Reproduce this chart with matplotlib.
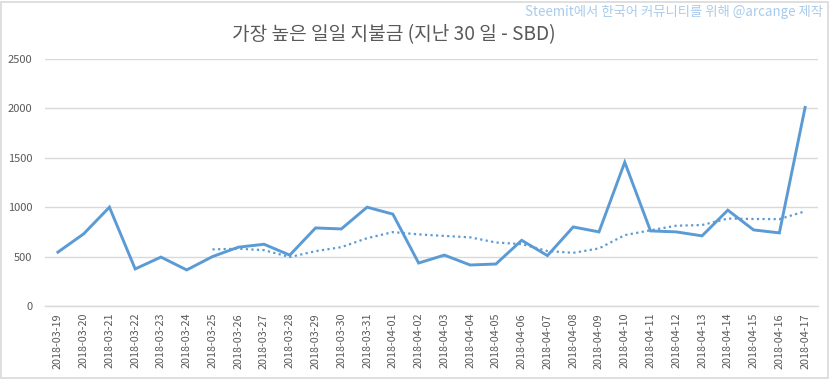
import numpy as np
import pandas as pd
import matplotlib
matplotlib.use('Agg')
import matplotlib.pyplot as plt
from matplotlib.patches import Rectangle

plt.rcParams['font.family'] = ['Noto Sans CJK KR', 'DejaVu Sans']

# Daily highest payout, last 30 days (SBD)
dates = ['2018-03-19', '2018-03-20', '2018-03-21', '2018-03-22', '2018-03-23',
         '2018-03-24', '2018-03-25', '2018-03-26', '2018-03-27', '2018-03-28',
         '2018-03-29', '2018-03-30', '2018-03-31', '2018-04-01', '2018-04-02',
         '2018-04-03', '2018-04-04', '2018-04-05', '2018-04-06', '2018-04-07',
         '2018-04-08', '2018-04-09', '2018-04-10', '2018-04-11', '2018-04-12',
         '2018-04-13', '2018-04-14', '2018-04-15', '2018-04-16', '2018-04-17']
payout = [545, 730, 1000, 375, 495, 365, 500, 595, 625, 515,
          790, 780, 1000, 930, 435, 515, 415, 425, 665, 510,
          800, 750, 1455, 760, 750, 710, 970, 770, 740, 2010]

title = '가장 높은 일일 지불금 (지난 30 일 - SBD)'
credit = 'Steemit에서 한국어 커뮤니티를 위해 @arcange 제작'

blue = '#5B9BD5'
grid_col = '#D9D9D9'
text_col = '#595959'

# 7-day moving average trendline (like the Excel trendline)
trend = pd.Series(payout).rolling(7).mean()

fig = plt.figure(figsize=(8.33, 3.79), dpi=100)
ax = fig.add_axes([45/833, 1 - 306/379, (818 - 45)/833, (306 - 59)/379])

x = np.arange(len(dates))
ax.plot(x, payout, color=blue, lw=2.1, solid_joinstyle='miter')
ax.plot(x, trend, color=blue, lw=1.6, linestyle=(0, (1, 1.5)))

ax.set_xlim(-0.5, len(dates) - 0.5)
ax.set_ylim(0, 2500)
ax.set_yticks(np.arange(0, 2501, 500))
ax.set_xticks(x)
ax.set_xticklabels(dates, rotation=90, fontsize=7.8, color=text_col)
ax.tick_params(axis='y', labelsize=8, labelcolor=text_col, length=0, pad=9)
ax.tick_params(axis='x', length=0, pad=5)
ax.grid(axis='y', color=grid_col, lw=1)
ax.set_axisbelow(True)
for s in ['top', 'right', 'left']:
    ax.spines[s].set_visible(False)
ax.spines['bottom'].set_color(grid_col)
ax.spines['bottom'].set_linewidth(1)

fig.text(394/833, 1 - 35/379, title, ha='center', va='center',
         fontsize=13.8, color=text_col)
fig.text(823/833, 1 - 12/379, credit, ha='right', va='center',
         fontsize=9.6, color='#A9CBEB')

# chart border
fig.patches.append(Rectangle((1/833, 1/379), 827/833, 376/379,
                             transform=fig.transFigure, fill=False,
                             edgecolor=grid_col, lw=1.2))

fig.savefig('out.png', dpi=100)
